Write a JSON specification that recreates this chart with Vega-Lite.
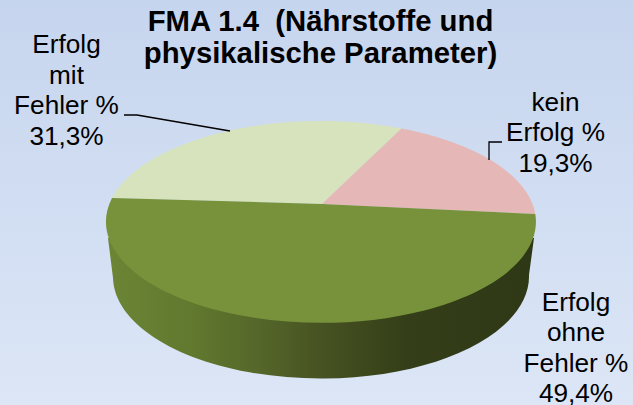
{
"$schema":"https://vega.github.io/schema/vega-lite/v6.json",
"width":633,"height":405,"padding":0,"autosize":"none",
"background":"#cfdcf1",
"view":{"stroke":null,"fill":{"gradient":"linear","x1":0,"y1":0,"x2":0,"y2":1,"stops":[{"offset":0,"color":"#c6d5ee"},{"offset":1,"color":"#dce6f6"}]}},
"title":{"text":["FMA 1.4\u00a0 (Nährstoffe und","physikalische Parameter)"],"font":"Liberation Sans","fontSize":29.3,"fontWeight":"bold","color":"#000000","lineHeight":32,"anchor":"middle","dx":4,"dy":69,"offset":0},
"data":{"values":[
{"category":"Erfolg mit Fehler %","value":31.3,"label":"Erfolg\nmit\nFehler %\n31,3%"},
{"category":"kein Erfolg %","value":19.3,"label":"kein\nErfolg %\n19,3%"},
{"category":"Erfolg ohne Fehler %","value":49.4,"label":"Erfolg\nohne\nFehler %\n49,4%"}
]},
"resolve":{"scale":{"shape":"independent"}},
"layer":[
{"transform":[{"filter":"datum.category === 'Erfolg ohne Fehler %'"}],
 "mark":{"type":"point","filled":true,"opacity":1,"size":4,"shape":"M-208.5,35.5 L-203.5,75.5 A208,102 0 0 0 212.5,72.5 L217.5,35.5 Z",
 "fill":{"gradient":"linear","x1":0,"y1":0,"x2":1,"y2":0,"stops":[{"offset":0,"color":"#6b8535"},{"offset":0.2,"color":"#61782e"},{"offset":0.35,"color":"#55672a"},{"offset":0.5,"color":"#465322"},{"offset":0.7,"color":"#343e18"},{"offset":1,"color":"#2f3816"}]}},
 "encoding":{}},
{"mark":{"type":"point","filled":true,"opacity":1,"size":4},
 "encoding":{
  "shape":{"field":"category","type":"nominal","legend":null,"scale":{"domain":["Erfolg mit Fehler %","kein Erfolg %","Erfolg ohne Fehler %"],"range":["M5.5,1.5 L-204.5,-4.5 A215,101 0 0 1 85,-74 Z","M5.5,1.5 L85,-74 A215,101 0 0 1 218.8,11.5 Z","M5.5,1.5 L218.8,11.5 A215,101 0 1 1 -204.5,-4.5 Z"]}},
  "color":{"field":"category","type":"nominal","legend":null,"scale":{"domain":["Erfolg mit Fehler %","kein Erfolg %","Erfolg ohne Fehler %"],"range":["#d7e3bc","#e5b7b6","#77923a"]}}
 }},
{"transform":[{"filter":"datum.category !== 'Erfolg ohne Fehler %'"}],
 "mark":{"type":"point","filled":false,"opacity":1,"size":4,"stroke":"#000000","strokeWidth":1.3},
 "encoding":{
  "shape":{"field":"category","type":"nominal","legend":null,"scale":{"domain":["Erfolg mit Fehler %","kein Erfolg %"],"range":["M-192.5,-87.5 L-179.5,-87.5 L-86.5,-71.5","M172.5,-42.5 L172.5,-60.5 L185.5,-60.5"]}}
 }},
{"transform":[{"filter":"datum.category === 'Erfolg mit Fehler %'"}],
 "mark":{"type":"text","font":"Liberation Sans","fontSize":26.2,"lineHeight":30.6,"lineBreak":"\n","align":"center","baseline":"middle","color":"#000000","dx":-250,"dy":-157.5},
 "encoding":{"text":{"field":"label"}}},
{"transform":[{"filter":"datum.category === 'kein Erfolg %'"}],
 "mark":{"type":"text","font":"Liberation Sans","fontSize":26.2,"lineHeight":30.6,"lineBreak":"\n","align":"center","baseline":"middle","color":"#000000","dx":239,"dy":-100},
 "encoding":{"text":{"field":"label"}}},
{"transform":[{"filter":"datum.category === 'Erfolg ohne Fehler %'"}],
 "mark":{"type":"text","font":"Liberation Sans","fontSize":26.2,"lineHeight":30.6,"lineBreak":"\n","align":"center","baseline":"middle","color":"#000000","dx":259.5,"dy":100},
 "encoding":{"text":{"field":"label"}}}
]
}
